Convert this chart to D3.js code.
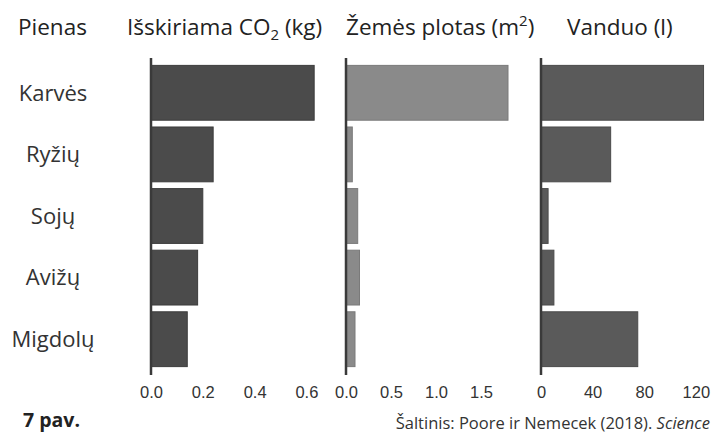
<!DOCTYPE html>
<html>
<head>
<meta charset="utf-8">
<script src="https://cdn.jsdelivr.net/npm/d3@7"></script>
<style>
  body { margin: 0; background: #fff; }
  svg { display: block; font-family: 'Open Sans', sans-serif; }
  .tick text { font-family: 'Liberation Sans', Arial, sans-serif; font-size: 16.5px; fill: #333; }
</style>
</head>
<body>
<div id="chart"></div>
<script>
// milk types
const categories = ['Karvės', 'Ryžių', 'Sojų', 'Avižų', 'Migdolų'];

// values per glass of milk (Poore & Nemecek 2018)
const co2Values = [0.63, 0.24, 0.20, 0.18, 0.14];
const landValues = [1.80, 0.07, 0.13, 0.15, 0.10];
const waterValues = [126, 54, 5.5, 10, 75];

const co2Ticks = [0, 0.2, 0.4, 0.6];
const landTicks = [0, 0.5, 1.0, 1.5];
const waterTicks = [0, 40, 80, 120];

const width = 715;
const height = 434;

const svg = d3.select('#chart')
  .append('svg')
  .attr('width', width)
  .attr('height', height);

// shared band scale for the rows
const y = d3.scaleBand()
  .domain(categories)
  .range([62, 370])
  .paddingInner(0.11)
  .paddingOuter(0.055);

const panels = [
  {values: co2Values, ticks: co2Ticks, fmt: d3.format('.1f'), x0: 151, unit: 259, fill: '#4b4b4b', stroke: '#3c3c3c'},
  {values: landValues, ticks: landTicks, fmt: d3.format('.1f'), x0: 346, unit: 90, fill: '#8a8a8a', stroke: '#7a7a7a'},
  {values: waterValues, ticks: waterTicks, fmt: d3.format('d'), x0: 541, unit: 1.29, fill: '#5a5a5a', stroke: '#4a4a4a'}
];

panels.forEach(p => {
  const x = d3.scaleLinear()
    .domain([0, 1])
    .range([p.x0, p.x0 + p.unit]);

  // bars
  svg.append('g')
    .selectAll('rect')
    .data(p.values)
    .join('rect')
    .attr('x', x(0))
    .attr('y', (d, i) => y(categories[i]))
    .attr('width', d => x(d) - x(0))
    .attr('height', y.bandwidth())
    .attr('fill', p.fill)
    .attr('stroke', p.stroke)
    .attr('stroke-width', 1);

  // vertical axis line
  svg.append('line')
    .attr('x1', x(0))
    .attr('x2', x(0))
    .attr('y1', 58)
    .attr('y2', 375)
    .attr('stroke', '#3a3a3a')
    .attr('stroke-width', 2.5);

  // bottom tick labels
  const axis = svg.append('g')
    .attr('transform', 'translate(0,375)')
    .call(d3.axisBottom(x).tickValues(p.ticks).tickFormat(p.fmt).tickSize(0).tickPadding(11));
  axis.select('.domain').remove();
});

// category labels
svg.append('g')
  .selectAll('text')
  .data(categories)
  .join('text')
  .attr('x', 53)
  .attr('y', d => y(d) + y.bandwidth() / 2)
  .attr('dy', '0.35em')
  .attr('text-anchor', 'middle')
  .attr('font-size', 22)
  .attr('fill', '#333')
  .text(d => d);

// column headers
const header = svg.append('g')
  .attr('font-size', 22.5)
  .attr('fill', '#222');

header.append('text').attr('x', 18).attr('y', 35).text('Pienas');

const co2Title = header.append('text').attr('x', 127).attr('y', 35);
co2Title.append('tspan').text('Išskiriama CO');
co2Title.append('tspan').attr('font-size', 15).attr('dy', 5).text('2');
co2Title.append('tspan').attr('dy', -5).text(' (kg)');

const landTitle = header.append('text').attr('x', 346).attr('y', 35);
landTitle.append('tspan').text('Žemės plotas (m');
landTitle.append('tspan').attr('font-size', 15).attr('dy', -9).text('2');
landTitle.append('tspan').attr('dy', 9).text(')');

header.append('text').attr('x', 567).attr('y', 35).text('Vanduo (l)');

// footer
svg.append('text')
  .attr('x', 23)
  .attr('y', 427)
  .attr('font-size', 19.5)
  .attr('font-weight', 'bold')
  .attr('fill', '#222')
  .text('7 pav.');

const source = svg.append('text')
  .attr('x', 710)
  .attr('y', 429)
  .attr('text-anchor', 'end')
  .attr('font-size', 16.5)
  .attr('fill', '#333');
source.append('tspan').text('Šaltinis: Poore ir Nemecek (2018). ');
source.append('tspan').attr('font-style', 'italic').text('Science');
</script>
</body>
</html>
